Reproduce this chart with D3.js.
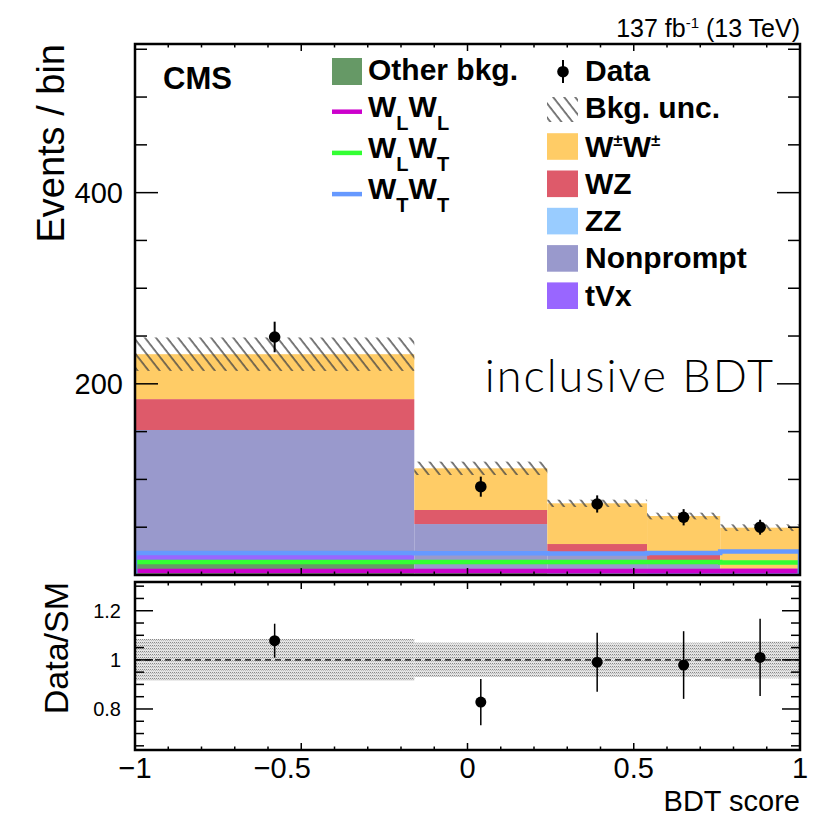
<!DOCTYPE html>
<html>
<head>
<meta charset="utf-8">
<script src="https://cdn.jsdelivr.net/npm/d3@7"></script>
<style>
  body { margin: 0; background: #fff; }
  text { font-family: "Liberation Sans", Arial, Helvetica, sans-serif; }
</style>
</head>
<body>
<div id="chart"></div>
<script>
// BDT score bins and stacked backgrounds (events / bin)
const binEdges = [-1, -0.16, 0.24, 0.54, 0.76, 1];
const otherBkg = [15, 2, 1.5, 1, 1];
const tVx = [7, 2, 1.5, 1, 1];
const zz = [3, 1, 1, 1, 0.5];
const nonprompt = [126.7, 48.3, 19, 12.7, 1.5];
const wz = [32.3, 14.7, 9.4, 6.3, 3];
const wpmwpm = [47, 43.6, 42.6, 39.7, 42.5];
const bkgUnc = [17.5, 7, 3.8, 3.5, 3.5];

// polarization templates drawn as lines
const wLwL = [4.2, 4.2, 4.2, 4.2, 4.2];
const wLwT = [13.6, 13.6, 13.6, 13.6, 13];
const wTwT = [23, 22.7, 22.5, 23, 24.5];

const dataVals = [249, 92.4, 74.3, 60.4, 50];
const dataErr = [16, 10.5, 9, 8.5, 7.8];
const ratioUnc = [0.085, 0.07, 0.07, 0.07, 0.075];

const mainTickLabels = [200, 400];
const ratioTickLabels = [0.8, 1, 1.2];
const xTickLabels = [-1, -0.5, 0, 0.5, 1];

const width = 833, height = 818;
const L = 135, R = 800;
const mainTop = 44, mainBot = 575;
const ratTop = 582, ratBot = 750;

const svg = d3.select("#chart").append("svg")
  .attr("width", width).attr("height", height);

const x = d3.scaleLinear().domain([-1, 1]).range([L, R]);
const y = d3.scaleLinear().domain([0, 555.5]).range([mainBot, mainTop]);
const yr = d3.scaleLinear().domain([0.633, 1.317]).range([ratBot, ratTop]);

const defs = svg.append("defs");
const hatch = defs.append("pattern").attr("id", "hatch")
  .attr("patternUnits", "userSpaceOnUse").attr("width", 8.7).attr("height", 8.7)
  .attr("patternTransform", "rotate(-38)");
hatch.append("line").attr("x1", 2).attr("x2", 2).attr("y1", 0).attr("y2", 8.7)
  .attr("stroke", "#444").attr("stroke-width", 1.4);

const dots = defs.append("pattern").attr("id", "dots")
  .attr("patternUnits", "userSpaceOnUse").attr("width", 2).attr("height", 3);
dots.append("rect").attr("width", 2).attr("height", 3).attr("fill", "#e4e4e4");
dots.append("rect").attr("width", 1).attr("height", 1).attr("fill", "#888");
dots.append("rect").attr("x", 1).attr("y", 1).attr("width", 1).attr("height", 1).attr("fill", "#bbb");

defs.append("clipPath").attr("id", "clipMain").append("rect")
  .attr("x", L).attr("y", mainTop).attr("width", R - L).attr("height", mainBot - mainTop);
defs.append("clipPath").attr("id", "clipRat").append("rect")
  .attr("x", L).attr("y", ratTop).attr("width", R - L).attr("height", ratBot - ratTop);

const colors = {
  other: "#669966", tvx: "#9966ff", zz: "#99ccff",
  nonprompt: "#9999cc", wz: "#de5a6a", wpm: "#ffcc66"
};
const keys = ["other", "tvx", "zz", "nonprompt", "wz", "wpm"];
const rows = binEdges.slice(0, -1).map((e, i) => ({
  lo: e, hi: binEdges[i + 1],
  other: otherBkg[i], tvx: tVx[i], zz: zz[i],
  nonprompt: nonprompt[i], wz: wz[i], wpm: wpmwpm[i]
}));
const stacked = d3.stack().keys(keys)(rows);
const totals = rows.map(r => d3.sum(keys, k => r[k]));

// ---- main panel
const gMain = svg.append("g").attr("clip-path", "url(#clipMain)");

stacked.forEach(layer => {
  gMain.append("g").selectAll("rect")
    .data(layer)
    .join("rect")
    .attr("x", d => x(d.data.lo))
    .attr("width", d => x(d.data.hi) - x(d.data.lo))
    .attr("y", d => y(d[1]))
    .attr("height", d => y(d[0]) - y(d[1]))
    .attr("fill", colors[layer.key]);
});

gMain.append("g").selectAll("rect")
  .data(rows)
  .join("rect")
  .attr("x", d => x(d.lo))
  .attr("width", d => x(d.hi) - x(d.lo))
  .attr("y", (d, i) => y(totals[i] + bkgUnc[i]))
  .attr("height", (d, i) => y(totals[i] - bkgUnc[i]) - y(totals[i] + bkgUnc[i]))
  .attr("fill", "url(#hatch)");

const stepLine = d3.line().x(d => x(d[0])).y(d => y(d[1])).curve(d3.curveStepAfter);
function stepPoints(vals) {
  const pts = [[binEdges[0], 0]];
  vals.forEach((v, i) => pts.push([binEdges[i], v]));
  pts.push([binEdges[binEdges.length - 1], vals[vals.length - 1]]);
  pts.push([binEdges[binEdges.length - 1], 0]);
  return pts;
}
[[wLwL, "#cc00cc"], [wLwT, "#33ff33"], [wTwT, "#6699ff"]].forEach(([vals, c]) => {
  gMain.append("path")
    .attr("d", stepLine(stepPoints(vals)))
    .attr("fill", "none").attr("stroke", c).attr("stroke-width", 4.5);
});

const centers = rows.map(r => (r.lo + r.hi) / 2);
const gData = svg.append("g");
centers.forEach((c, i) => {
  gData.append("line")
    .attr("x1", x(c)).attr("x2", x(c))
    .attr("y1", y(dataVals[i] - dataErr[i])).attr("y2", y(dataVals[i] + dataErr[i]))
    .attr("stroke", "#000").attr("stroke-width", 2);
  gData.append("circle").attr("cx", x(c)).attr("cy", y(dataVals[i])).attr("r", 5.8).attr("fill", "#000");
});

// ---- ratio panel
const gRat = svg.append("g").attr("clip-path", "url(#clipRat)");
gRat.append("g").selectAll("rect")
  .data(rows)
  .join("rect")
  .attr("x", d => x(d.lo))
  .attr("width", d => x(d.hi) - x(d.lo))
  .attr("y", (d, i) => yr(1 + ratioUnc[i]))
  .attr("height", (d, i) => yr(1 - ratioUnc[i]) - yr(1 + ratioUnc[i]))
  .attr("fill", "url(#dots)");
gRat.append("line")
  .attr("x1", L).attr("x2", R).attr("y1", yr(1)).attr("y2", yr(1))
  .attr("stroke", "#000").attr("stroke-width", 1.2).attr("stroke-dasharray", "6,4");

centers.forEach((c, i) => {
  const r = dataVals[i] / totals[i];
  const e = dataErr[i] / totals[i];
  gRat.append("line")
    .attr("x1", x(c)).attr("x2", x(c))
    .attr("y1", yr(r - e)).attr("y2", yr(r + e))
    .attr("stroke", "#000").attr("stroke-width", 1.5);
  gRat.append("circle").attr("cx", x(c)).attr("cy", yr(r)).attr("r", 5.5).attr("fill", "#000");
});

// ---- frames and inward ticks
function frame(top, bot, yScale, yMinor, isMajor, majLen, minLen, xMaj, xMin) {
  const g = svg.append("g").attr("stroke", "#000");
  yMinor.forEach(v => {
    const len = isMajor(v) ? majLen : minLen;
    const yy = yScale(v);
    g.append("line").attr("x1", L).attr("x2", L + len).attr("y1", yy).attr("y2", yy).attr("stroke-width", 1.5);
    g.append("line").attr("x1", R).attr("x2", R - len).attr("y1", yy).attr("y2", yy).attr("stroke-width", 1.5);
  });
  d3.range(-10, 11).forEach(k => {
    const v = k / 10;
    const len = k % 5 === 0 ? xMaj : xMin;
    g.append("line").attr("x1", x(v)).attr("x2", x(v)).attr("y1", bot).attr("y2", bot - len).attr("stroke-width", 1.5);
    g.append("line").attr("x1", x(v)).attr("x2", x(v)).attr("y1", top).attr("y2", top + len).attr("stroke-width", 1.5);
  });
  g.append("rect").attr("x", L).attr("y", top).attr("width", R - L).attr("height", bot - top)
    .attr("fill", "none").attr("stroke-width", 2.5);
}
frame(mainTop, mainBot, y, d3.range(50, 551, 50), v => v % 200 === 0, 23, 12, 7, 3.5);
frame(ratTop, ratBot, yr, d3.range(13, 27).map(k => k * 0.05), v => Math.round(v * 100) % 20 === 0, 18, 9, 7, 3.5);

// ---- tick labels and titles
svg.append("g").selectAll("text")
  .data(mainTickLabels).join("text")
  .attr("x", 123).attr("y", d => y(d)).attr("dy", "0.36em")
  .attr("text-anchor", "end").attr("font-size", 29).text(d => d);
svg.append("g").selectAll("text")
  .data(ratioTickLabels).join("text")
  .attr("x", 121).attr("y", d => yr(d)).attr("dy", "0.36em")
  .attr("text-anchor", "end").attr("font-size", 20).text(d => d);
svg.append("g").selectAll("text")
  .data(xTickLabels).join("text")
  .attr("x", d => x(d)).attr("y", 778)
  .attr("dx", d => d === -0.5 ? -19 : 0)
  .attr("text-anchor", "middle").attr("font-size", 29)
  .text(d => d < 0 ? "\u2212" + Math.abs(d) : d);

svg.append("text").attr("x", R).attr("y", 811).attr("text-anchor", "end")
  .attr("font-size", 29).text("BDT score");
svg.append("text").attr("transform", `translate(64,${mainTop}) rotate(-90)`)
  .attr("text-anchor", "end").attr("font-size", 38).text("Events / bin");
svg.append("text").attr("transform", `translate(68,${ratTop}) rotate(-90)`)
  .attr("text-anchor", "end").attr("font-size", 34).text("Data/SM");

const lumi = svg.append("text").attr("x", R).attr("y", 37).attr("text-anchor", "end").attr("font-size", 25);
lumi.append("tspan").text("137 fb");
lumi.append("tspan").attr("dy", -9).attr("font-size", 15).text("-1");
lumi.append("tspan").attr("dy", 9).text(" (13 TeV)");

svg.append("text").attr("x", 163).attr("y", 89).attr("font-size", 31).attr("font-weight", "bold").text("CMS");

svg.append("text").attr("x", 775).attr("y", 392).attr("text-anchor", "end")
  .attr("font-size", 45).attr("font-weight", 300).attr("letter-spacing", 2)
  .style("font-family", "Lato, 'Open Sans', sans-serif")
  .text("inclusive BDT");

// ---- legend
const leg = svg.append("g").attr("font-weight", "bold").attr("font-size", 30);
function legText(xx, yy, parts) {
  const t = leg.append("text").attr("x", xx).attr("y", yy);
  parts.forEach(p => {
    const s = t.append("tspan").text(p.t);
    if (p.sub) s.attr("dy", 13).attr("font-size", 20);
    if (p.sup) s.attr("dy", -11).attr("font-size", 17);
    if (p.back) s.attr("dy", p.back);
  });
}
// left column
leg.append("rect").attr("x", 332).attr("y", 58).attr("width", 30).attr("height", 27).attr("fill", colors.other);
legText(368, 80, [{ t: "Other bkg." }]);
const lineEntries = [["#cc00cc", "L", "L"], ["#33ff33", "L", "T"], ["#6699ff", "T", "T"]];
lineEntries.forEach(([c, a, b], i) => {
  const yy = 111.7 + i * 41.2;
  leg.append("line").attr("x1", 332).attr("x2", 362).attr("y1", yy).attr("y2", yy)
    .attr("stroke", c).attr("stroke-width", 4.5);
  legText(368, yy + 5, [{ t: "W" }, { t: a, sub: true }, { t: "W", back: -13 }, { t: b, sub: true }]);
});
// right column
leg.append("line").attr("x1", 563).attr("x2", 563).attr("y1", 60).attr("y2", 83).attr("stroke", "#000").attr("stroke-width", 2);
leg.append("circle").attr("cx", 563).attr("cy", 71.7).attr("r", 5.8).attr("fill", "#000");
legText(585, 81, [{ t: "Data" }]);
leg.append("rect").attr("x", 547).attr("y", 97).attr("width", 31).attr("height", 25).attr("fill", "url(#hatch)");
legText(585, 118, [{ t: "Bkg. unc." }]);
const fillEntries = [
  ["wpm", [{ t: "W" }, { t: "\u00b1", sup: true }, { t: "W", back: 11 }, { t: "\u00b1", sup: true }]],
  ["wz", [{ t: "WZ" }]],
  ["zz", [{ t: "ZZ" }]],
  ["nonprompt", [{ t: "Nonprompt" }]],
  ["tvx", [{ t: "tVx" }]]
];
fillEntries.forEach(([k, parts], i) => {
  const yc = 146.5 + i * 37.3;
  leg.append("rect").attr("x", 547).attr("y", yc - 13.3).attr("width", 31).attr("height", 26.6).attr("fill", colors[k]);
  legText(585, yc + 10, parts);
});
</script>
</body>
</html>
